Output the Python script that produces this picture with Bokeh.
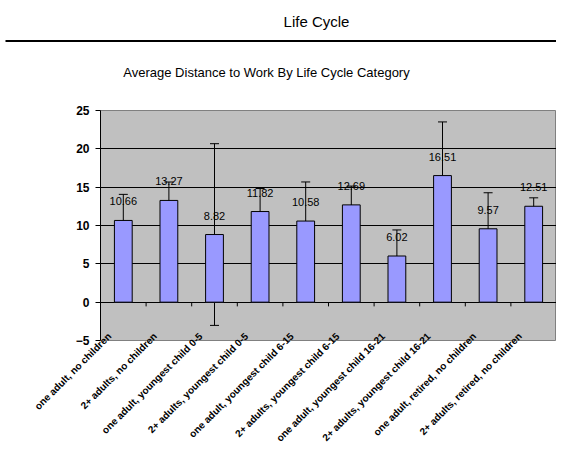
from bokeh.plotting import figure
from bokeh.models import Range1d, FixedTicker, ColumnDataSource, Whisker, TeeHead
from bokeh.core.properties import value
from bokeh.embed import file_html
from bokeh.resources import INLINE
import math

page_title = "Life Cycle"
chart_title = "Average Distance to Work By Life Cycle Category"
categories = [
    "one adult, no children",
    "2+ adults, no children",
    "one adult, youngest child 0-5",
    "2+ adults, youngest child 0-5",
    "one adult, youngest child 6-15",
    "2+ adults, youngest child 6-15",
    "one adult, youngest child 16-21",
    "2+ adults, youngest child 16-21",
    "one adult, retired, no children",
    "2+ adults, retired, no children",
]
means = [10.66, 13.27, 8.82, 11.82, 10.58, 12.69, 6.02, 16.51, 9.57, 12.51]
errors = [3.4, 2.4, 11.85, 3.0, 5.1, 2.45, 3.4, 7.0, 4.7, 1.1]
y_ticks = [-5, 0, 5, 10, 15, 20, 25]

FONT = value("Liberation Sans")

W, H = 556, 450
F_LEFT, F_TOP, F_BOTTOM = 100, 110, 340
LABEL_SHIFT = 0.3   # category labels end a little left of the bar centre
n = len(categories)
xs = [i + 0.5 for i in range(n)]
label_pos = [x - LABEL_SHIFT for x in xs]
src = ColumnDataSource(dict(
    x=xs, top=means,
    upper=[m + e for m, e in zip(means, errors)],
    lower=[m - e for m, e in zip(means, errors)],
    lbl=[f"{m:.2f}" for m in means],
))

p = figure(width=W, height=H, x_range=Range1d(0, n), y_range=Range1d(y_ticks[0], y_ticks[-1]),
           output_backend="svg", toolbar_location=None,
           min_border_left=F_LEFT, min_border_right=0, min_border_top=F_TOP,
           min_border_bottom=H - F_BOTTOM)
p.background_fill_color = "#C0C0C0"
p.border_fill_color = "white"
p.outline_line_color = "#808080"

# pixel ranges for the header decorations
p.extra_x_ranges["page"] = Range1d(F_LEFT, W)
p.extra_y_ranges["page"] = Range1d(F_BOTTOM, F_TOP)

p.xgrid.visible = False
p.ygrid.ticker = FixedTicker(ticks=[t for t in y_ticks if t >= 0])
p.ygrid.grid_line_color = "black"
p.ygrid.grid_line_width = 1

p.yaxis.ticker = FixedTicker(ticks=y_ticks)
p.yaxis.axis_line_color = "black"
p.yaxis.major_tick_line_color = "black"
p.yaxis.major_tick_out = 5
p.yaxis.major_tick_in = 0
p.yaxis.minor_tick_line_color = None
p.yaxis.major_label_text_font = "Liberation Sans"
p.yaxis.major_label_text_font_size = "12px"
p.yaxis.major_label_text_font_style = "bold"
p.yaxis.major_label_text_color = "black"
p.yaxis.major_label_standoff = 6

p.xaxis.ticker = FixedTicker(ticks=label_pos)
p.xaxis.major_label_overrides = {x: c for x, c in zip(label_pos, categories)}
p.xaxis.major_label_orientation = math.pi / 4
p.xaxis.axis_line_color = None
p.xaxis.major_tick_line_color = None
p.xaxis.minor_tick_line_color = None
p.xaxis.major_label_text_font = "Liberation Sans"
p.xaxis.major_label_text_font_size = "10px"
p.xaxis.major_label_text_font_style = "bold"
p.xaxis.major_label_text_color = "black"
p.xaxis.major_label_standoff = -12

p.vbar(x="x", top="top", bottom=0, width=0.39, source=src,
       fill_color="#9999FF", line_color="black", line_width=1)

p.segment(x0=list(range(1, n)), y0=[0] * (n - 1), x1=list(range(1, n)), y1=[-0.55] * (n - 1),
          line_color="black", line_width=1)

p.add_layout(Whisker(base="x", upper="upper", lower="lower", source=src,
                     line_color="black", line_width=1,
                     upper_head=TeeHead(size=9, line_color="black", line_width=1),
                     lower_head=TeeHead(size=9, line_color="black", line_width=1)))

p.text(x="x", y="top", text="lbl", source=src, y_offset=-19, text_font=FONT,
       text_font_size="11px", text_align="center", text_baseline="middle", text_color="black")

# header (drawn at annotation level so it is not clipped to the plot area)
p.text(x=[316], y=[21], text=[page_title], x_range_name="page", y_range_name="page",
       text_font=FONT, text_font_size="15px",
       text_align="center", text_baseline="middle", text_color="black", level="annotation")
p.segment(x0=[5], y0=[40.5], x1=[572], y1=[40.5], x_range_name="page", y_range_name="page",
          line_color="black", line_width=2, level="annotation")
p.text(x=[266], y=[72], text=[chart_title], x_range_name="page", y_range_name="page",
       text_font=FONT, text_font_size="13px",
       text_align="center", text_baseline="middle", text_color="black", level="annotation")

open("out.html", "w").write(file_html(p, INLINE))
